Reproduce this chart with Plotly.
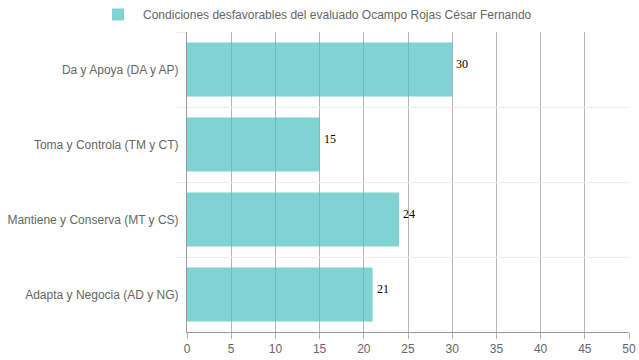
import plotly.graph_objects as go

categories = ["Da y Apoya (DA y AP)", "Toma y Controla (TM y CT)",
              "Mantiene y Conserva (MT y CS)", "Adapta y Negocia (AD y NG)"]
values = [30, 15, 24, 21]
series_name = "Condiciones desfavorables del evaluado Ocampo Rojas César Fernando"
x_ticks = [0, 5, 10, 15, 20, 25, 30, 35, 40, 45, 50]

fig = go.Figure()
fig.add_trace(go.Bar(
    y=categories, x=values, orientation="h", name=series_name,
    marker=dict(color="rgba(75,192,192,0.7)", line=dict(width=0)),
    showlegend=True, hoverinfo="x+y",
))

for c, v in zip(categories, values):
    fig.add_annotation(x=v, y=c, text=str(v), showarrow=False,
                       xanchor="left", yanchor="middle", xshift=2, yshift=6,
                       font=dict(family="Liberation Serif, Times New Roman, serif",
                                 size=12, color="#000"))

fig.update_layout(
    width=639, height=360,
    margin=dict(l=187, r=10, t=32, b=28, autoexpand=False),
    paper_bgcolor="white", plot_bgcolor="white",
    bargap=0.28,
    font=dict(family="Liberation Sans, Arial, Helvetica, sans-serif", size=12, color="#666"),
    legend=dict(orientation="h", xref="container", yref="container",
                x=0.493, xanchor="center", y=1.0, yanchor="top",
                font=dict(size=12, color="#666"), itemwidth=40,
                bgcolor="rgba(0,0,0,0)"),
    xaxis=dict(range=[0, 50], tickmode="array", tickvals=x_ticks, showgrid=True,
               gridcolor="#b4b4b4", gridwidth=1, zeroline=False,
               showline=True, linecolor="#9a9a9a", linewidth=1,
               ticks="outside", ticklen=6, tickcolor="#b4b4b4",
               tickfont=dict(size=12, color="#666"), fixedrange=True),
    yaxis=dict(autorange="reversed", type="category", tickson="boundaries",
               showgrid=True, gridcolor="#ececec", gridwidth=1,
               showline=True, linecolor="#9a9a9a", linewidth=1,
               ticks="outside", ticklen=10, tickcolor="#ececec",
               ticklabelstandoff=5,
               tickfont=dict(size=12, color="#666"), fixedrange=True),
)

fig.write_html("out.html", config={"displayModeBar": False},
               post_script="document.body.style.margin='0';document.body.style.overflow='hidden';")
